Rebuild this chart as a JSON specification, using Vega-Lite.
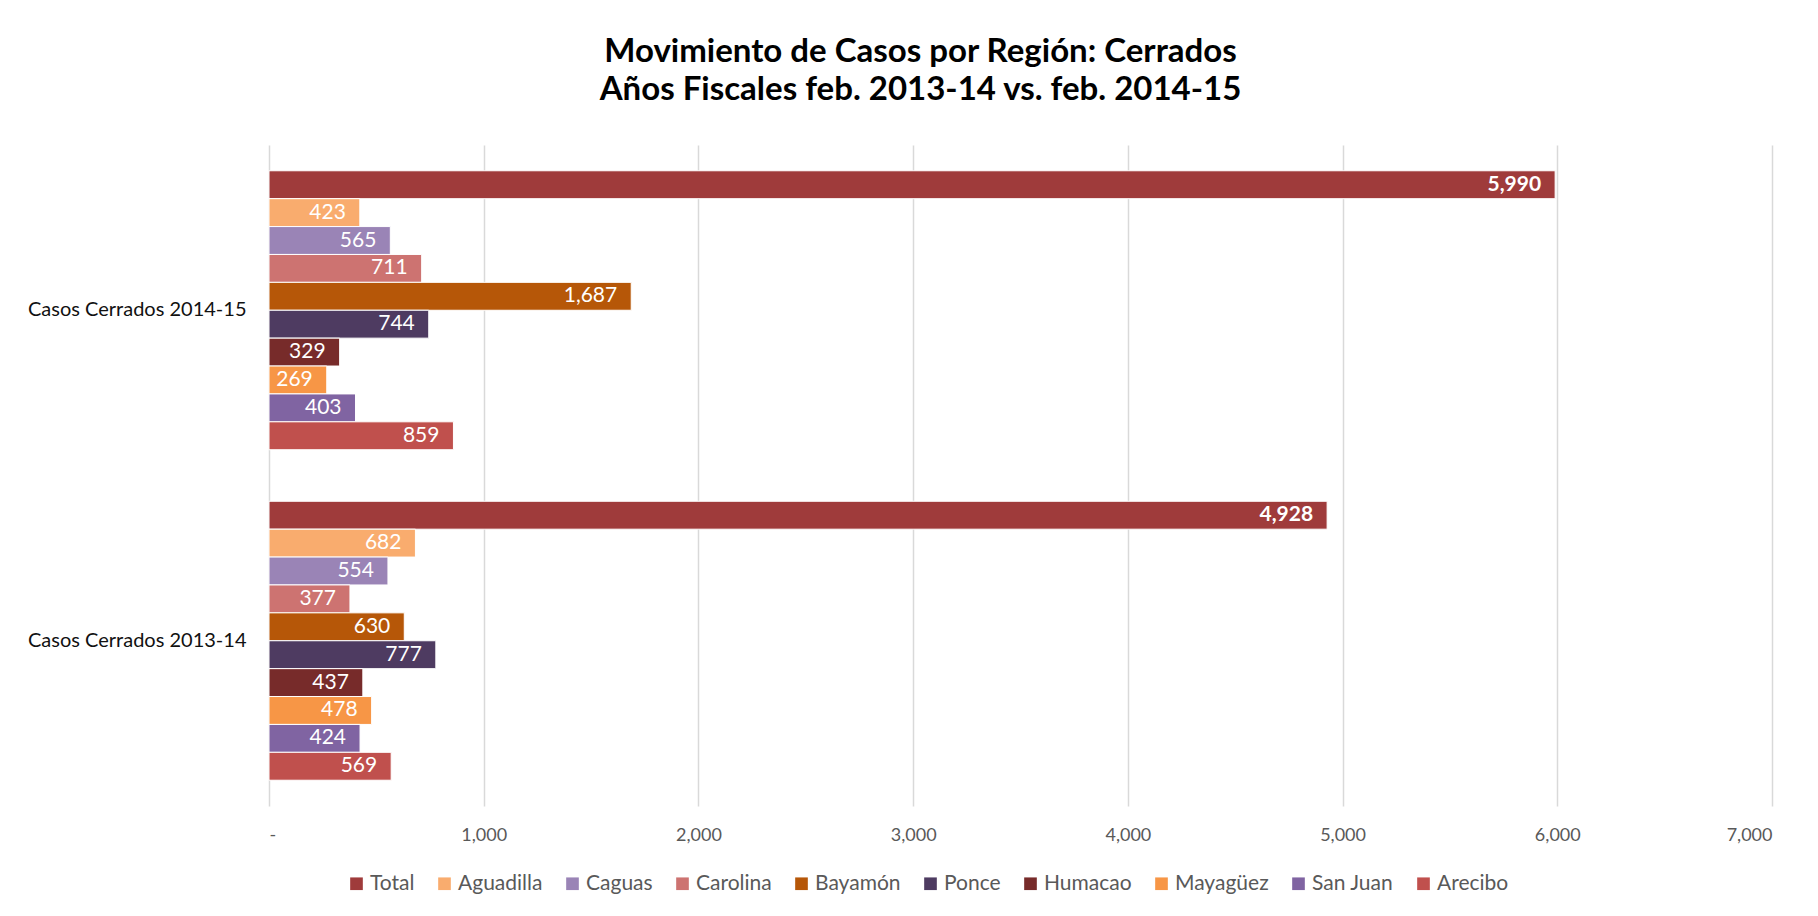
{
  "$schema": "https://vega.github.io/schema/vega-lite/v6.json",
  "autosize": {"type": "none"},
  "width": 1503,
  "height": 661,
  "padding": {"left": 269, "top": 145, "right": 46, "bottom": 110},
  "background": "#ffffff",
  "config": {
    "view": {"stroke": null},
    "font": "Lato"
  },
  "title": {
    "text": ["Movimiento de Casos por Región: Cerrados", "Años Fiscales feb. 2013-14 vs. feb. 2014-15"],
    "anchor": "middle",
    "frame": "group",
    "dx": -100,
    "fontSize": 33,
    "fontWeight": "bold",
    "color": "#000000",
    "lineHeight": 38,
    "offset": 38,
    "font": "Lato"
  },
  "data": {
    "values": [
      {"periodo": "Casos Cerrados 2014-15", "region": "Total", "casos": 5990},
      {"periodo": "Casos Cerrados 2014-15", "region": "Aguadilla", "casos": 423},
      {"periodo": "Casos Cerrados 2014-15", "region": "Caguas", "casos": 565},
      {"periodo": "Casos Cerrados 2014-15", "region": "Carolina", "casos": 711},
      {"periodo": "Casos Cerrados 2014-15", "region": "Bayamón", "casos": 1687},
      {"periodo": "Casos Cerrados 2014-15", "region": "Ponce", "casos": 744},
      {"periodo": "Casos Cerrados 2014-15", "region": "Humacao", "casos": 329},
      {"periodo": "Casos Cerrados 2014-15", "region": "Mayagüez", "casos": 269},
      {"periodo": "Casos Cerrados 2014-15", "region": "San Juan", "casos": 403},
      {"periodo": "Casos Cerrados 2014-15", "region": "Arecibo", "casos": 859},
      {"periodo": "Casos Cerrados 2013-14", "region": "Total", "casos": 4928},
      {"periodo": "Casos Cerrados 2013-14", "region": "Aguadilla", "casos": 682},
      {"periodo": "Casos Cerrados 2013-14", "region": "Caguas", "casos": 554},
      {"periodo": "Casos Cerrados 2013-14", "region": "Carolina", "casos": 377},
      {"periodo": "Casos Cerrados 2013-14", "region": "Bayamón", "casos": 630},
      {"periodo": "Casos Cerrados 2013-14", "region": "Ponce", "casos": 777},
      {"periodo": "Casos Cerrados 2013-14", "region": "Humacao", "casos": 437},
      {"periodo": "Casos Cerrados 2013-14", "region": "Mayagüez", "casos": 478},
      {"periodo": "Casos Cerrados 2013-14", "region": "San Juan", "casos": 424},
      {"periodo": "Casos Cerrados 2013-14", "region": "Arecibo", "casos": 569}
    ]
  },
  "encoding": {
    "y": {
      "field": "periodo",
      "type": "nominal",
      "sort": ["Casos Cerrados 2014-15", "Casos Cerrados 2013-14"],
      "scale": {"paddingInner": 0.156, "paddingOuter": 0.078},
      "axis": {
        "title": null,
        "domain": false,
        "ticks": false,
        "labelPadding": 23,
        "labelFontSize": 20,
        "labelLimit": 400,
        "labelColor": "#111111",
        "labelFont": "Lato"
      }
    },
    "yOffset": {
      "field": "region",
      "type": "nominal",
      "sort": ["Total", "Aguadilla", "Caguas", "Carolina", "Bayamón", "Ponce", "Humacao", "Mayagüez", "San Juan", "Arecibo"],
      "scale": {"paddingInner": 0, "paddingOuter": 0}
    },
    "x": {
      "field": "casos",
      "type": "quantitative",
      "scale": {"domain": [0, 7000], "nice": false},
      "axis": {
        "title": null,
        "values": [0, 1000, 2000, 3000, 4000, 5000, 6000, 7000],
        "labelExpr": "datum.value == 0 ? '-' : format(datum.value, ',')",
        "domain": false,
        "ticks": false,
        "grid": true,
        "gridColor": "#d9d9d9",
        "gridWidth": 1.5,
        "labelPadding": 20,
        "labelFontSize": 18,
        "labelColor": "#595959",
        "labelFont": "Lato"
      }
    }
  },
  "layer": [
    {
      "mark": {"type": "bar", "stroke": "#ffffff", "strokeWidth": 1},
      "encoding": {
        "color": {
          "field": "region",
          "type": "nominal",
          "scale": {
            "domain": ["Total", "Aguadilla", "Caguas", "Carolina", "Bayamón", "Ponce", "Humacao", "Mayagüez", "San Juan", "Arecibo"],
            "range": ["#9f3b3b", "#f9ac6e", "#9a84b6", "#cd7371", "#b65708", "#4e3b61", "#772b2a", "#f79646", "#8064a2", "#c0504d"]
          },
          "legend": {
            "title": null,
            "orient": "none",
            "legendX": 77,
            "legendY": 728,
            "direction": "horizontal",
            "columns": 10,
            "symbolType": "square",
            "symbolSize": 160,
            "symbolStrokeWidth": 0,
            "labelFontSize": 21,
            "labelColor": "#595959",
            "labelFont": "Lato",
            "columnPadding": 19,
            "labelOffset": 3
          }
        }
      }
    },
    {
      "transform": [{"filter": "datum.region == 'Total'"}],
      "mark": {"type": "text", "align": "right", "baseline": "middle", "dx": -14, "color": "#ffffff", "fontSize": 21, "fontWeight": "bold", "font": "Lato"},
      "encoding": {"text": {"field": "casos", "type": "quantitative", "format": ","}}
    },
    {
      "transform": [{"filter": "datum.region != 'Total'"}],
      "mark": {"type": "text", "align": "right", "baseline": "middle", "dx": -14, "color": "#ffffff", "fontSize": 21, "font": "Lato"},
      "encoding": {"text": {"field": "casos", "type": "quantitative", "format": ","}}
    }
  ]
}
